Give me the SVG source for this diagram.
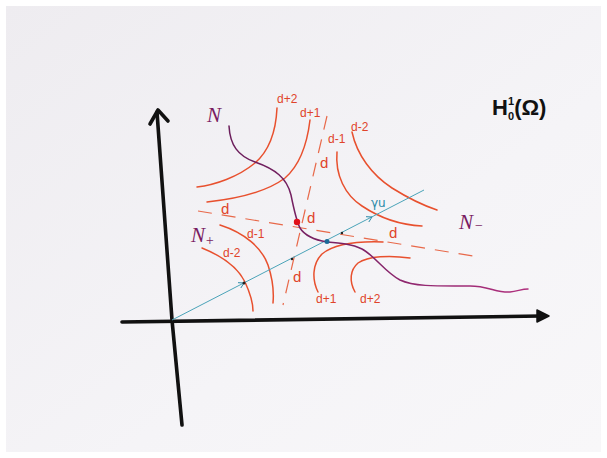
<svg xmlns="http://www.w3.org/2000/svg" width="607" height="458" viewBox="0 0 607 458">
<defs>
<linearGradient id="paper" x1="0" y1="0" x2="1" y2="1">
<stop offset="0" stop-color="#eeecf0"/>
<stop offset="0.6" stop-color="#f5f4f7"/>
<stop offset="1" stop-color="#f8f7f9"/>
</linearGradient>
<linearGradient id="purple" gradientUnits="userSpaceOnUse" x1="229" y1="126" x2="528" y2="290">
<stop offset="0" stop-color="#6a1d5a"/>
<stop offset="0.5" stop-color="#7d2266"/>
<stop offset="1" stop-color="#b0307e"/>
</linearGradient>
<style>
.ax{fill:none;stroke:#111;stroke-width:3.6;stroke-linecap:round;stroke-linejoin:round}
.lv{fill:none;stroke:#e8502e;stroke-width:1.5;stroke-linecap:round}
.dash{fill:none;stroke:#e8694a;stroke-width:1.2;stroke-dasharray:14 10}
.ray{fill:none;stroke:#4aa3b8;stroke-width:1}
.lbl{font-family:"Liberation Sans",Arial,sans-serif;font-size:12px;fill:#e0442a}
.dl{font-family:"Liberation Sans",Arial,sans-serif;font-size:15px;fill:#e0442a}
.nl{font-family:"Liberation Serif","Times New Roman",serif;font-style:italic;font-size:21px;fill:#7a1c62}
</style>
</defs>
<rect x="0" y="0" width="607" height="458" fill="#ffffff"/>
<rect x="6" y="6" width="595" height="446" fill="url(#paper)"/>

<g id="axes">
<path class="ax" d="M157,112 L172,320 L182,425"/>
<path class="ax" d="M150,124 L158,110 L168,121"/>
<path class="ax" d="M122,322 L541,316"/>
<path d="M537,310 L549,316 L537,322 Z" fill="#111" stroke="#111" stroke-width="1.5" stroke-linejoin="round"/>
</g>

<g id="level-sets">
<path class="lv" d="M277,108 C276,130 270,150 255,163 C238,177 215,185 197,187"/>
<path class="lv" d="M310,120 C307,145 300,165 285,178 C265,193 235,199 207,202"/>
<path class="lv" d="M337,152 C335,175 345,195 362,206 C380,218 400,225 422,226"/>
<path class="lv" d="M352,132 C357,155 372,175 392,188 C408,198 422,205 437,210"/>
<path class="lv" d="M220,225 C245,233 262,248 268,265 C273,280 274,292 273,303"/>
<path class="lv" d="M202,248 C222,256 238,268 245,282 C251,295 253,305 253,311"/>
<path class="lv" d="M318,292 C312,280 312,264 322,254 C333,245 355,241 383,242"/>
<path class="lv" d="M355,292 C349,281 350,270 358,263 C368,256 390,255 410,258"/>
<path class="dash" d="M327,116 L283,305"/>
<path class="dash" d="M198,211 L473,256"/>
</g>

<g id="ray">
<path class="ray" d="M172,320 L424,190"/>
<path d="M238,282.7 L244,283 L240.8,288" fill="none" stroke="#2a8aa8" stroke-width="1"/>
<path d="M366,216.7 L372,217 L368.8,222" fill="none" stroke="#2a8aa8" stroke-width="1"/>
<circle cx="244" cy="283" r="1.5" fill="#222"/>
<circle cx="292" cy="259" r="1.2" fill="#222"/>
<circle cx="342" cy="233" r="1.2" fill="#222"/>
</g>

<g id="nehari">
<path fill="none" stroke="url(#purple)" stroke-width="1.5" stroke-linecap="round" d="M229,126 C230,145 238,156 255,162 C275,169 287,178 291,195 C294,210 296,220 300,228 C305,236 315,240 327,242 C340,243 352,244 362,249 C375,256 385,272 400,280 C415,287 440,286 470,286 C488,286 497,293 510,292 C518,291 522,289 528,289"/>
<circle cx="297" cy="222" r="3.2" fill="#e0101a"/>
<circle cx="327" cy="241.5" r="2.5" fill="#1b6a98"/>
</g>

<g id="labels">
<text class="lbl" x="277" y="103">d+2</text>
<text class="lbl" x="300" y="117">d+1</text>
<text class="lbl" x="328" y="143">d-1</text>
<text class="lbl" x="351" y="131">d-2</text>
<text class="dl" x="320" y="168">d</text>
<text class="dl" x="221" y="214">d</text>
<text class="dl" x="307" y="223">d</text>
<text class="dl" x="389" y="238">d</text>
<text class="dl" x="293" y="282">d</text>
<text class="lbl" x="247" y="238">d-1</text>
<text class="lbl" x="223" y="257">d-2</text>
<text class="lbl" x="316" y="303">d+1</text>
<text class="lbl" x="360" y="303">d+2</text>
<text x="371" y="207" font-family="DejaVu Sans,sans-serif" font-size="12" fill="#2a8aa8">γu</text>
<text class="nl" x="207" y="122">N</text>
<text class="nl" x="191" y="242">N<tspan font-size="14" dy="3">+</tspan></text>
<text class="nl" x="459" y="229">N<tspan font-size="14" dx="1" dy="1">−</tspan></text>
<text x="492" y="115" font-family="Liberation Sans,Arial,sans-serif" font-size="22" font-weight="bold" fill="#111">H<tspan font-size="11" dy="-10">1</tspan><tspan font-size="11" dx="-6" dy="15">0</tspan><tspan dy="-5">(Ω)</tspan></text>
</g>
</svg>
